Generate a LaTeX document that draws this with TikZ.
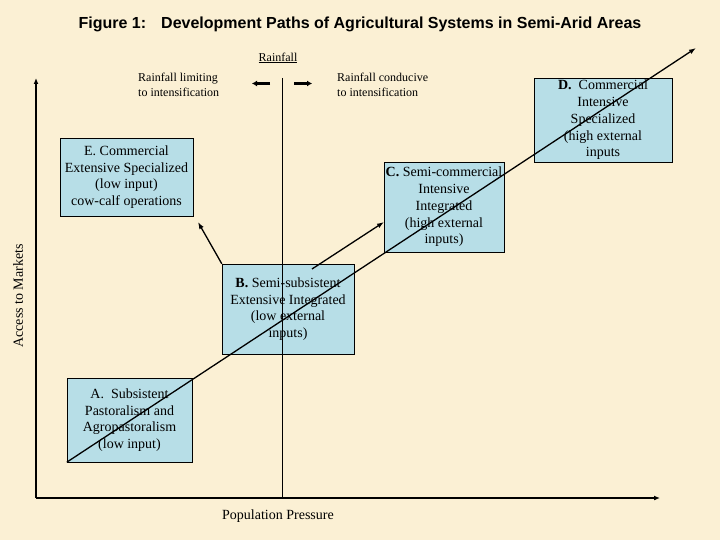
\documentclass[tikz,border=0pt]{standalone}
\usepackage{fontspec}
\setmainfont{Liberation Serif}
\setsansfont{Liberation Sans}
\usetikzlibrary{arrows.meta}
\definecolor{parchment}{RGB}{251,240,212}
\definecolor{boxblue}{RGB}{183,222,231}
\tikzset{
    every node/.style={font=\fontsize{14}{16.7}\selectfont},
    sysbox/.style={draw=black, fill=boxblue, align=center, inner sep=0pt},
    note/.style={font=\fontsize{12}{14.8}\selectfont, align=left, inner sep=0pt},
    axisarrow/.style={-{Latex[length=6pt,width=5pt]}, line width=2pt},
    devpath/.style={-{Latex[length=7pt,width=5pt]}, line width=1.3pt},
    rainarrow/.style={-{Latex[length=5pt,width=6pt]}, line width=2.5pt},
}

\begin{document}
\begin{tikzpicture}[x=1pt,y=-1pt]
% page and background
\fill[parchment] (0,0) rectangle (720,540);
\useasboundingbox (0,0) rectangle (720,540);

%=========================
% Titles and labels
%=========================
\node[font=\sffamily\bfseries\fontsize{16}{18}\selectfont] (title) at (360,24)
  {Figure 1:\hspace{15pt}Development Paths of Agricultural Systems in Semi-Arid Areas};
\node[font=\fontsize{12}{14}\selectfont] (rainfall) at (278,58) {\underline{Rainfall}};
\node[note, anchor=west] (limiting) at (138,84.5) {Rainfall limiting\\to intensification};
\node[note, anchor=west] (conducive) at (337,84.5) {Rainfall conducive\\to intensification};
\node[rotate=90] (markets) at (18,296) {Access to Markets};
\node (pressure) at (278,516) {Population Pressure};

%=========================
% Systems
%=========================
\node[sysbox, minimum width=133pt, minimum height=78pt] (E) at (126.5,177)
  {E. Commercial\\Extensive Specialized\\(low input)\\cow-calf operations};
\node[sysbox, minimum width=120pt, minimum height=90pt] (C) at (444,207)
  {\textbf{C.} Semi-commercial\\Intensive\\Integrated\\(high external\\inputs)};
\node[sysbox, minimum width=138pt, minimum height=84pt] (D) at (603,120)
  {\textbf{D.}~ Commercial\\Intensive\\Specialized\\(high external\\inputs};
\node[sysbox, minimum width=132pt, minimum height=90pt] (B) at (288,309)
  {\textbf{B.} Semi-subsistent\\Extensive Integrated\\(low external\\inputs)};
\node[sysbox, minimum width=125pt, minimum height=84pt] (A) at (129.5,420)
  {A.~ Subsistent\\Pastoralism and\\Agropastoralism\\(low input)};

%=========================
% Axes and rainfall divide
%=========================
\coordinate (origin) at (36,498);
\coordinate (ytip) at (36,78);
\coordinate (xtip) at (660,498);
\coordinate (divtop) at (282.5,78);
\draw[axisarrow] (origin) -- (ytip);
\draw[axisarrow] (origin) -- (xtip);
\draw[line width=1pt] (divtop) -- (divtop |- origin);

\coordinate (drier) at (252,83.5);
\coordinate (drierstart) at (270,83.5);
\coordinate (wetter) at (312,83.5);
\coordinate (wetterstart) at (294,83.5);
\draw[rainarrow] (drierstart) -- (drier);
\draw[rainarrow] (wetterstart) -- (wetter);

%=========================
% Development paths
%=========================
\coordinate (trend) at (696,48);
\coordinate (bstart) at (312,269);
\coordinate (ctip) at (384,222);
\coordinate (etip) at (198,222);
\draw[devpath] (A.south west) -- (trend);
\draw[devpath] (bstart) -- (ctip);
\draw[devpath] (B.north west) -- (etip);

\end{tikzpicture}
\end{document}
